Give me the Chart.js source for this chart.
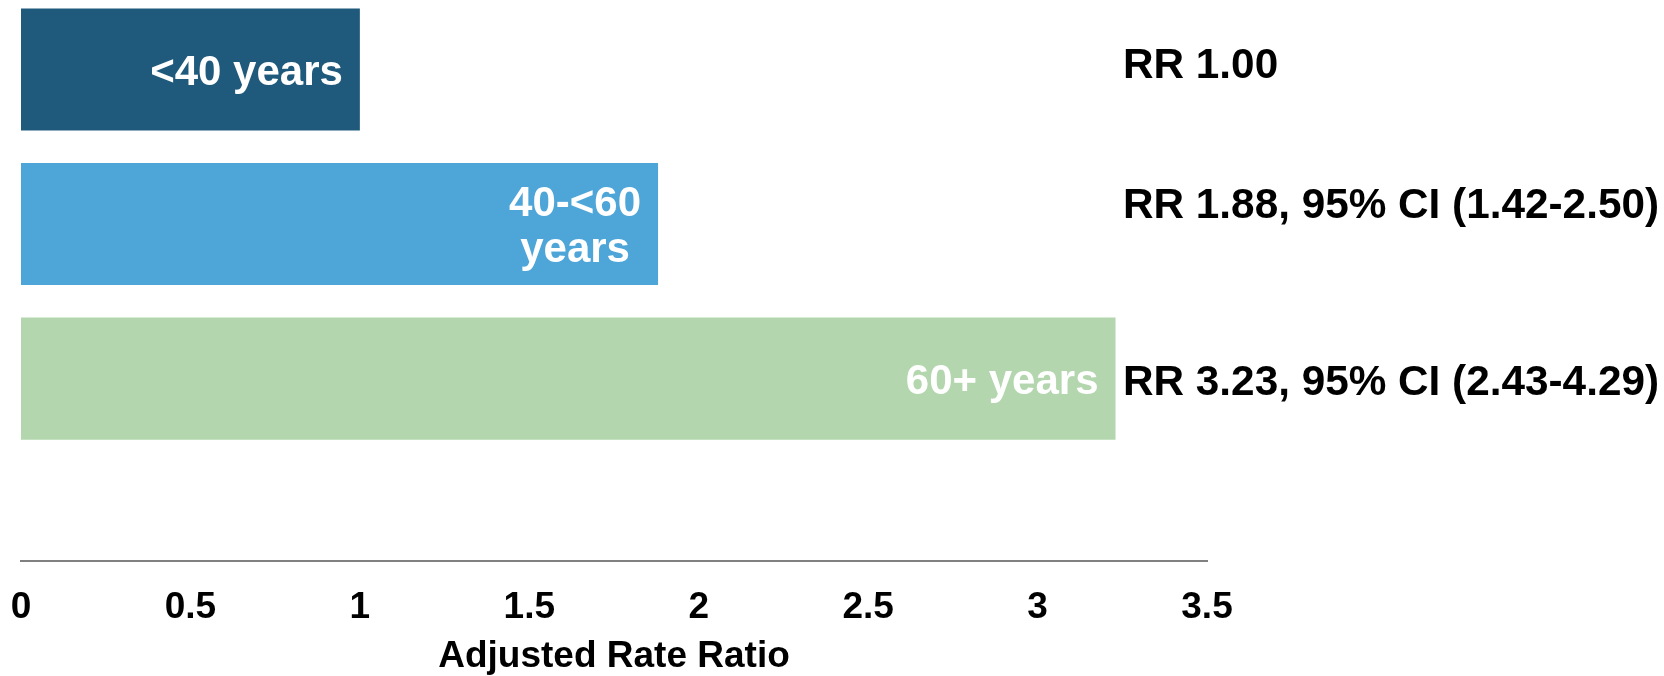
<!DOCTYPE html>
<html>
<head>
<meta charset="utf-8">
<script src="https://cdn.jsdelivr.net/npm/chart.js@4/dist/chart.umd.min.js"></script>
<style>
  html, body { margin: 0; padding: 0; background: #ffffff; }
  #wrap { width: 1664px; height: 676px; position: relative; }
</style>
</head>
<body>
<div id="wrap"><canvas id="rr"></canvas></div>
<script>
// Age groups (top to bottom) and their adjusted rate ratios
const categories = ['<40 years', '40-<60\nyears', '60+ years'];
const rateRatios = [1.00, 1.88, 3.23];
const ciLow = [null, 1.42, 2.43];
const ciHigh = [null, 2.50, 4.29];
const barColors = ['#1F5A7C', '#4EA5D8', '#B3D6AE'];
const xTicks = [0, 0.5, 1, 1.5, 2, 2.5, 3, 3.5];
const axisTitle = 'Adjusted Rate Ratio';

const FONT = '"Liberation Sans", Arial, Helvetica, sans-serif';
const CAP = 0.716; // cap height of the font, in ems

function rrText(i) {
  let s = 'RR ' + rateRatios[i].toFixed(2);
  if (ciLow[i] != null && ciHigh[i] != null) {
    s += ', 95% CI (' + ciLow[i].toFixed(2) + '-' + ciHigh[i].toFixed(2) + ')';
  }
  return s;
}

// Draws the group name inside each bar and the RR text to the right of the plot
const barText = {
  id: 'barText',
  afterDatasetsDraw(chart, args, opts) {
    const ctx = chart.ctx;
    const meta = chart.getDatasetMeta(0);
    ctx.save();
    ctx.textBaseline = 'alphabetic';
    meta.data.forEach((bar, i) => {
      // group name, right-aligned inside the bar, lines centred on each other
      const lines = categories[i].split('\n');
      const fs = opts.inFontSize;
      ctx.font = 'bold ' + fs + 'px ' + FONT;
      ctx.fillStyle = '#ffffff';
      const w = Math.max(...lines.map(l => ctx.measureText(l).width));
      const cx = bar.x - opts.inPad - w / 2;
      const lh = fs * opts.inLineHeight;
      const base0 = bar.y - (lines.length - 1) * lh / 2 + fs * CAP / 2;
      ctx.textAlign = 'center';
      lines.forEach((l, k) => ctx.fillText(l, cx, base0 + k * lh));

      // rate ratio with confidence interval
      ctx.font = 'bold ' + opts.rrFontSize + 'px ' + FONT;
      ctx.fillStyle = '#000000';
      ctx.textAlign = 'left';
      ctx.fillText(rrText(i), chart.chartArea.right + opts.rrShift, bar.y + opts.rrDy[i]);
    });
    ctx.restore();
  }
};

new Chart(document.getElementById('rr'), {
  type: 'bar',
  data: {
    datasets: [{
      data: rateRatios.map((v, i) => ({ x: v, y: i })),
      backgroundColor: barColors,
      borderWidth: 0,
      barPercentage: 0.79,
      categoryPercentage: 1.0
    }]
  },
  options: {
    indexAxis: 'y',
    responsive: true,
    maintainAspectRatio: false,
    animation: false,
    layout: { padding: { left: 21, right: 457, top: 0, bottom: 0 } },
    plugins: {
      legend: { display: false },
      tooltip: { enabled: false },
      barText: {
        inFontSize: 42, inPad: 17, inLineHeight: 1.11,
        rrFontSize: 42.3, rrShift: -84, rrDy: [8.5, -6, 16]
      }
    },
    scales: {
      y: {
        type: 'linear',
        reverse: true,
        offset: false,
        min: -0.45,
        max: 3.181,
        afterBuildTicks(scale) { scale.ticks = categories.map((c, i) => ({ value: i })); },
        display: false
      },
      x: {
        type: 'linear',
        min: 0,
        max: 3.5,
        afterBuildTicks(scale) { scale.ticks = xTicks.map(v => ({ value: v })); },
        grid: { display: false, drawTicks: false },
        border: { display: true, color: '#808080', width: 2 },
        ticks: {
          padding: 0,
          color: '#000000',
          font: { family: FONT, size: 37, weight: 'bold', lineHeight: 2.5 },
          callback: v => String(v)
        },
        title: {
          display: true,
          text: axisTitle,
          color: '#000000',
          font: { family: FONT, size: 37, weight: 'bold' },
          padding: { top: -19, bottom: -3 }
        }
      }
    }
  },
  plugins: [barText]
});
</script>
</body>
</html>
